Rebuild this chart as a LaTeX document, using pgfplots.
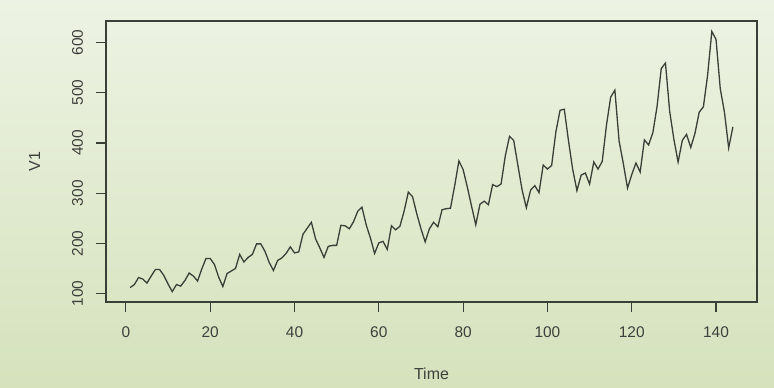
\documentclass[border=0pt]{standalone}
\usepackage{pgfplots}
\pgfplotsset{compat=1.18}
\usepackage{fontspec}
\setmainfont{Liberation Sans}
\definecolor{bgtop}{HTML}{EDF3E4}
\definecolor{bgbot}{HTML}{D5E2BC}
\definecolor{ink}{HTML}{3A3F37}
\definecolor{txt}{HTML}{3E403C}
\begin{document}
\begin{tikzpicture}[x=1bp,y=1bp]
\shade[top color=bgtop, bottom color=bgbot] (0,0) rectangle (774,387);
\useasboundingbox (0,0) rectangle (774,387);
\begin{axis}[
  at={(106bp,85bp)}, anchor=south west,
  scale only axis, width=651bp, height=281bp,
  xmin=-4.72, xmax=149.72, ymin=83.28, ymax=642.72,
  xtick={0,20,...,140}, ytick={100,200,...,600},
  xtick pos=bottom, ytick pos=left,
  tick align=outside, major tick length=10bp,
  axis line style={ink, line width=1.2bp},
  every tick/.style={ink, line width=1.2bp},
  /pgf/number format/assume math mode=true,
  tick label style={font=\fontsize{15.5}{18}\selectfont, text=txt},
  xticklabel style={anchor=north, inner sep=0pt, outer ysep=15bp},
  yticklabel style={rotate=90, anchor=south, inner sep=0pt, outer ysep=13bp},
  label style={font=\fontsize{16}{19}\selectfont, text=txt},
  xlabel={Time}, ylabel={V1},
  xlabel style={at={(axis description cs:0.5,0)}, anchor=north, inner sep=0pt, yshift=-66bp},
  ylabel style={at={(axis description cs:0,0.5)}, anchor=south, inner sep=0pt, outer ysep=66bp},
]
\addplot[ink, line width=1.3bp, mark=none] table[x expr=\coordindex+1, y index=0] {
v
112
118
132
129
121
135
148
148
136
119
104
118
115
126
141
135
125
149
170
170
158
133
114
140
145
150
178
163
172
178
199
199
184
162
146
166
171
180
193
181
183
218
230
242
209
191
172
194
196
196
236
235
229
243
264
272
237
211
180
201
204
188
235
227
234
264
302
293
259
229
203
229
242
233
267
269
270
315
364
347
312
274
237
278
284
277
317
313
318
374
413
405
355
306
271
306
315
301
356
348
355
422
465
467
404
347
305
336
340
318
362
348
363
435
491
505
404
359
310
337
360
342
406
396
420
472
548
559
463
407
362
405
417
391
419
461
472
535
622
606
508
461
390
432
};
\end{axis}
\end{tikzpicture}
\end{document}
